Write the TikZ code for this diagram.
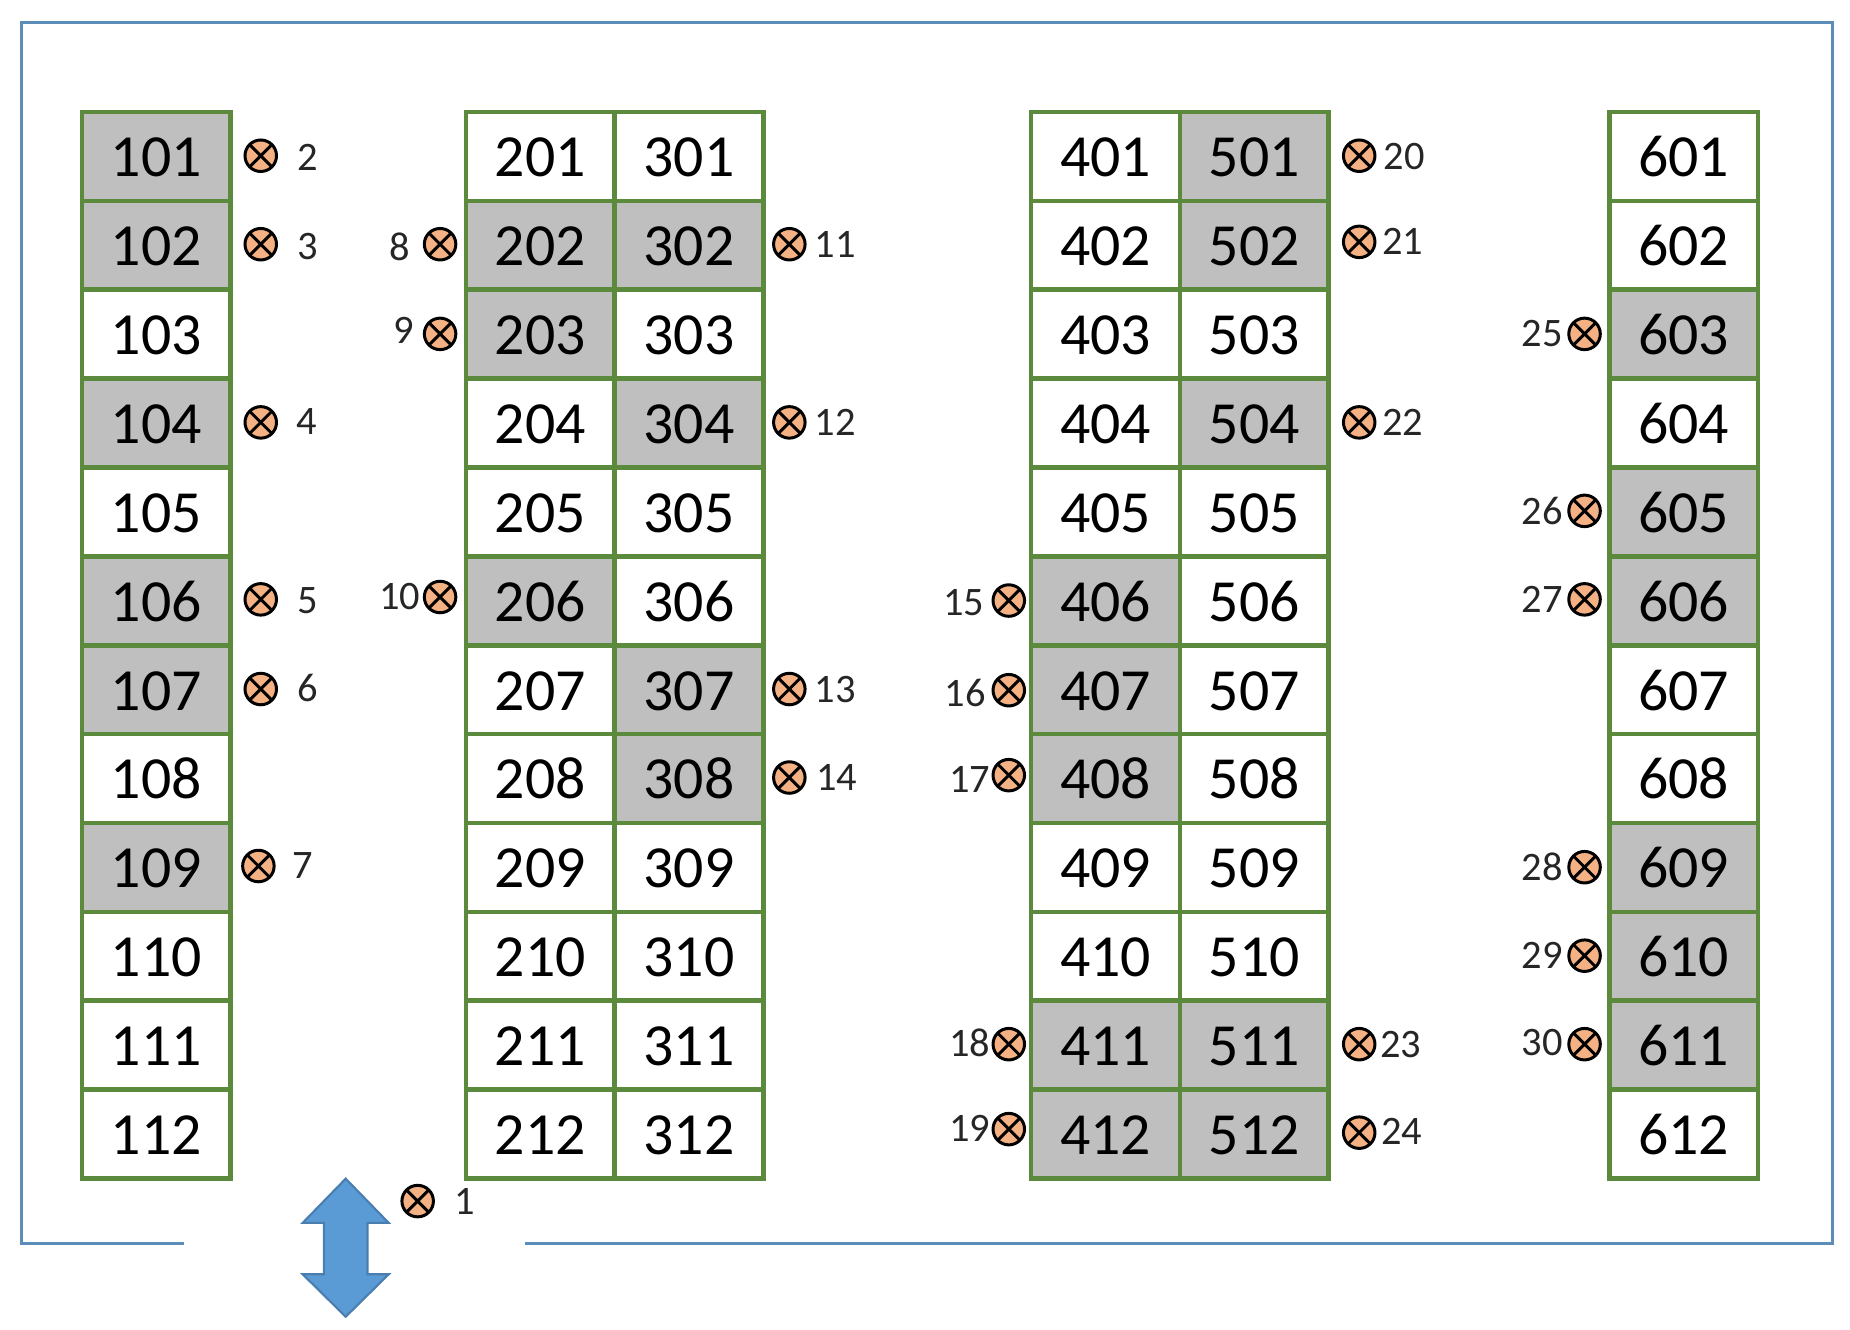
\documentclass[tikz,border=0pt]{standalone}
\usepackage{fontspec}
\usepackage{xstring}
\setmainfont{Carlito}
\usetikzlibrary{positioning}
\definecolor{cellgreen}{HTML}{5B8A3C}
\definecolor{cellgray}{HTML}{BFBFBF}
\definecolor{lamporange}{HTML}{F4B183}
\definecolor{framblue}{HTML}{5B8DB8}
\definecolor{arrowblue}{HTML}{5B9BD5}
\definecolor{arrowedge}{HTML}{4A7EB0}
\newcommand{\graycells}{,101,102,104,106,107,109,202,203,206,302,304,307,308,406,407,408,411,412,501,502,504,511,512,603,605,606,609,610,611,}
\tikzset{
  cell/.style={draw=cellgreen, line width=1.3pt, minimum width=1.487cm, minimum height=0.889cm, inner sep=0pt, text height=0.41cm, font=\fontsize{17}{20}\selectfont},
  lamp/.style={circle, draw=black, line width=0.85pt, fill=lamporange, minimum size=0.315cm, inner sep=0pt,
    path picture={\draw[line width=0.85pt] (path picture bounding box.north west) -- (path picture bounding box.south east)
      (path picture bounding box.north east) -- (path picture bounding box.south west);}},
  lamplabel/.style={inner sep=0pt, font=\fontsize{11.5}{14}\selectfont, text=black!85},
}
\begin{document}
\begin{tikzpicture}[x=0.0118cm, y=-0.0118cm]
    \useasboundingbox (0, 0) rectangle (1568, 1127);

    % outer wall
    \draw[framblue, line width=0.75pt] (156, 1054) -- (18, 1054) -- (18, 19) -- (1553, 19) -- (1553, 1054) -- (445, 1054);

    % cells
    \foreach \col/\x in {1/132.5, 2/458, 3/584, 4/937, 5/1063, 6/1427} {
      \foreach \row in {1, ..., 12} {
        \pgfmathtruncatemacro{\num}{\col*100+\row}
        \IfSubStr{\graycells}{,\num,}{\def\shade{cellgray}}{\def\shade{white}}
        \node[cell, fill=\shade] (c\num) at (\x, {132.6+75.33*(\row-1)}) {\num};
      }
    }

    % lamps
    \foreach \n/\x/\y/\lx/\ly in {
      1/354/1018/394/1018, 2/221/132/261/133, 3/221/207/261/209, 4/221/358/260/357,
      5/221/508/261/509, 6/221/584/261/583, 7/219/734/257/734, 8/373/207/339/209,
      9/373/283/342/280, 10/373/506/339/506, 11/669/207/708/207, 12/669/358/708/358,
      13/669/584/708/584, 14/669/659/709/659, 15/855/509/817/511, 16/855/585/818/587,
      17/855/657/822/661, 18/855/885/822/884, 19/855/957/822/956, 20/1152/132/1190/133,
      21/1152/205/1189/205, 22/1152/358/1189/358, 23/1152/885/1187/885, 24/1152/960/1188/959,
      25/1343/283/1307/283, 26/1343/433/1307/433, 27/1343/508/1307/508, 28/1343/735/1307/735,
      29/1343/810/1307/810, 30/1343/885/1307/884} {
      \node[lamp] (m\n) at (\x, \y) {};
      \node[lamplabel] (t\n) at (\lx, \ly) {\n};
    }

    % door arrow
    \draw[fill=arrowblue, draw=arrowedge, line width=0.6pt] (293, 999) -- (329.5, 1036.5) -- (311.5, 1036.5) -- (311.5, 1080) -- (329.5, 1080)
      -- (293, 1116) -- (256.5, 1080) -- (274.5, 1080) -- (274.5, 1036.5) -- (256.5, 1036.5) -- cycle;
  \end{tikzpicture}
\end{document}
